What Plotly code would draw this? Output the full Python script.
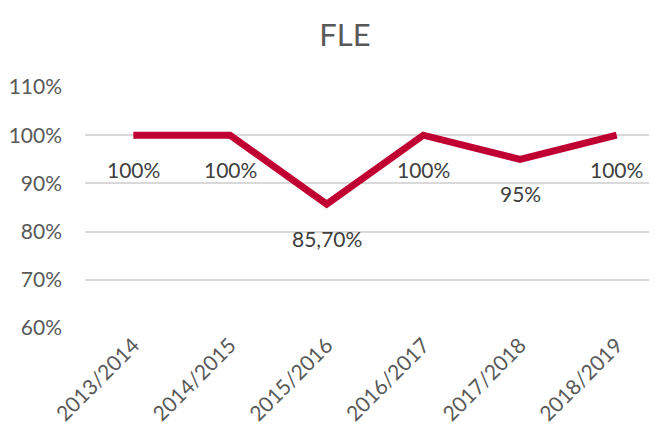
import plotly.graph_objects as go

categories = ["2013/2014", "2014/2015", "2015/2016", "2016/2017", "2017/2018", "2018/2019"]
values = [100, 100, 85.7, 100, 95, 100]
value_labels = ["100%", "100%", "85,70%", "100%", "95%", "100%"]
y_ticks = [60, 70, 80, 90, 100, 110]
y_tick_labels = ["60%", "70%", "80%", "90%", "100%", "110%"]

LINE = "#C00032"
FONT = "Lato"

fig = go.Figure()
fig.add_trace(go.Scatter(
    x=list(range(len(categories))), y=values, mode="lines",
    line=dict(color=LINE, width=7), hoverinfo="skip", showlegend=False,
))

for i, (v, t) in enumerate(zip(values, value_labels)):
    fig.add_annotation(x=i, y=v, text=t, showarrow=False, yshift=-34,
                       font=dict(family=FONT, size=21, color="#404040"))

fig.update_layout(
    width=657, height=435,
    paper_bgcolor="white", plot_bgcolor="white",
    margin=dict(l=77, r=0, t=79, b=115, autoexpand=False),
    title=dict(text="FLE", x=337/657, xanchor="center", y=1-27/435, yanchor="middle",
               font=dict(family=FONT, size=31, color="#595959")),
    xaxis=dict(tickmode="array", tickvals=list(range(len(categories))), ticktext=categories,
               range=[-0.5, 5.5], tickangle=-45, showgrid=False, zeroline=False,
               showline=False, ticks="", automargin=False,
               tickfont=dict(family=FONT, size=21, color="#595959")),
    yaxis=dict(range=[60, 110], tickmode="array", tickvals=y_ticks, ticktext=y_tick_labels,
               showgrid=True, gridcolor="#D9D9D9", gridwidth=1.5, zeroline=False,
               showline=False, ticks="", ticklabelstandoff=22, automargin=False,
               tickfont=dict(family=FONT, size=21, color="#595959")),
)

fig.write_html("out.html")
